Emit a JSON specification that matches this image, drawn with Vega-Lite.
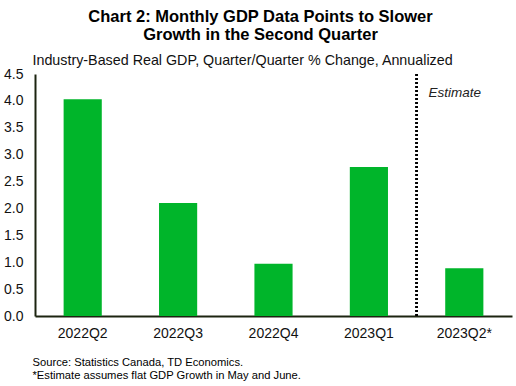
{
  "$schema": "https://vega.github.io/schema/vega-lite/v6.json",
  "autosize": {"type": "none"},
  "width": 477,
  "height": 242,
  "padding": {"left": 35, "top": 74, "right": 4, "bottom": 70},
  "background": "white",
  "config": {
    "view": {"stroke": null},
    "font": "Liberation Sans"
  },
  "title": {
    "text": ["Chart 2: Monthly GDP Data Points to Slower", "Growth in the Second Quarter"],
    "fontSize": 16.5,
    "fontWeight": "bold",
    "lineHeight": 18,
    "anchor": "middle",
    "dx": -13,
    "offset": 10,
    "color": "#000000",
    "font": "Liberation Sans"
  },
  "data": {
    "values": [
      {"quarter": "2022Q2", "value": 4.03},
      {"quarter": "2022Q3", "value": 2.1},
      {"quarter": "2022Q4", "value": 0.97},
      {"quarter": "2023Q1", "value": 2.77},
      {"quarter": "2023Q2*", "value": 0.89}
    ]
  },
  "encoding": {
    "x": {
      "field": "quarter",
      "type": "nominal",
      "sort": null,
      "scale": {"paddingInner": 0.6, "paddingOuter": 0.3},
      "axis": {
        "labelAngle": 0,
        "labelFontSize": 14,
        "labelColor": "#111111",
        "labelPadding": 10,
        "ticks": false,
        "domainColor": "#1c2410",
        "domainWidth": 2,
        "title": ["Source: Statistics Canada, TD Economics.", "*Estimate assumes flat GDP Growth in May and June."],
        "titleFontSize": 11.2,
        "titleFontWeight": "normal",
        "titleColor": "#000000",
        "titleAlign": "left",
        "titleAnchor": "start",
        "titleBaseline": "alphabetic",
        "titleLineHeight": 13,
        "titleX": -3,
        "titleY": 49
      }
    },
    "y": {
      "field": "value",
      "type": "quantitative",
      "scale": {"domain": [0, 4.5], "nice": false},
      "axis": {
        "values": [0, 0.5, 1, 1.5, 2, 2.5, 3, 3.5, 4, 4.5],
        "format": ".1f",
        "grid": false,
        "ticks": false,
        "labelOverlap": false,
        "labelFlush": false,
        "labelBound": false,
        "labelFontSize": 14,
        "labelColor": "#111111",
        "labelPadding": 12,
        "domainColor": "#1c2410",
        "domainWidth": 2,
        "title": "Industry-Based Real GDP, Quarter/Quarter % Change, Annualized",
        "titleAngle": 0,
        "titleAlign": "left",
        "titleBaseline": "alphabetic",
        "titleFontSize": 14.3,
        "titleFontWeight": "normal",
        "titleColor": "#111111",
        "titleX": -3,
        "titleY": -10
      }
    }
  },
  "layer": [
    {
      "mark": {"type": "bar", "color": "#00b52a"}
    },
    {
      "mark": {"type": "rule", "color": "#000000", "strokeWidth": 2, "strokeDash": [2, 2]},
      "encoding": {
        "x": {"datum": "2023Q1", "bandPosition": 1.75},
        "y": null
      }
    },
    {
      "data": {"values": [{"label": "Estimate", "pos": 4.15}]},
      "mark": {"type": "text", "fontStyle": "italic", "fontWeight": "normal", "fontSize": 13.5, "align": "left", "baseline": "middle", "color": "#222222", "dx": 12},
      "encoding": {
        "x": {"datum": "2023Q1", "bandPosition": 1.75},
        "y": {"field": "pos", "type": "quantitative"},
        "text": {"field": "label"}
      }
    }
  ]
}
